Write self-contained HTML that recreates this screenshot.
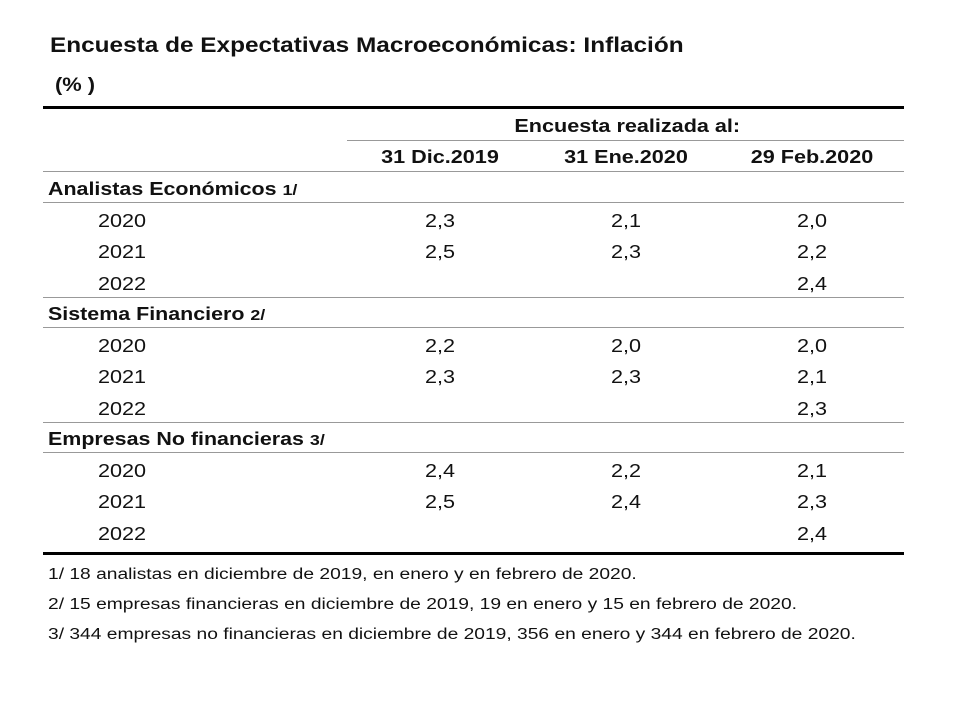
<!DOCTYPE html>
<html><head><meta charset="utf-8"><style>
body{margin:0;width:980px;height:722px;background:#fff;position:relative;font-family:"Liberation Sans",Arial,sans-serif;color:#111;overflow:hidden}
.a{position:absolute;white-space:nowrap;transform-origin:left top}
.ln{position:absolute;background:#999;height:1px}
.b{font-weight:bold}
.c{position:absolute;width:186px;text-align:center;font-size:18px;white-space:nowrap;transform:scaleX(1.2);transform-origin:center top}
.yr{position:absolute;left:98px;font-size:18px;transform:scaleX(1.2);transform-origin:left top}
.sec{position:absolute;left:48px;font-size:18px;font-weight:bold;white-space:nowrap;transform:scaleX(1.19);transform-origin:left top}
.sec small{font-size:15px}
.fn{position:absolute;left:48px;font-size:15.5px;white-space:nowrap;transform:scaleX(1.24);transform-origin:left top}
</style></head><body>
<div class="a b" style="left:50px;top:34px;font-size:21px;transform:scaleX(1.16)">Encuesta de Expectativas Macroeconómicas: Inflación</div>
<div class="a b" style="left:55px;top:75px;font-size:19px;transform:scaleX(1.15)">(% )</div>
<div class="ln" style="left:43px;top:106px;width:861px;height:3px;background:#000"></div>
<div class="c b" style="left:533px;top:116px">Encuesta realizada al:</div>
<div class="ln" style="left:347px;top:140px;width:557px"></div>
<div class="c b" style="left:347px;top:147px">31 Dic.2019</div>
<div class="c b" style="left:533px;top:147px">31 Ene.2020</div>
<div class="c b" style="left:719px;top:147px">29 Feb.2020</div>
<div class="ln" style="left:43px;top:171px;width:861px"></div>
<div id="body"></div>
<div class="ln" style="left:43px;top:552px;width:861px;height:3px;background:#000"></div>
<div class="fn" style="top:566px">1/ 18 analistas en diciembre de 2019, en enero y en febrero de 2020.</div>
<div class="fn" style="top:596px">2/ 15 empresas financieras en diciembre de 2019, 19 en enero y 15 en febrero de 2020.</div>
<div class="fn" style="top:626px">3/ 344 empresas no financieras en diciembre de 2019, 356 en enero y 344 en febrero de 2020.</div>
<script>
const sections=["Analistas Económicos","Sistema Financiero","Empresas No financieras"];
const notes=["1/","2/","3/"];
const years=["2020","2021","2022"];
const dic=[["2,3","2,5",""],["2,2","2,3",""],["2,4","2,5",""]];
const ene=[["2,1","2,3",""],["2,0","2,3",""],["2,2","2,4",""]];
const feb=[["2,0","2,2","2,4"],["2,0","2,1","2,3"],["2,1","2,3","2,4"]];
const body=document.getElementById('body');
const cols=[dic,ene,feb],colX=[347,533,719];
sections.forEach((s,i)=>{
  const top=172+i*125;
  const d=document.createElement('div');d.className='sec';d.style.top=(top+7)+'px';
  d.innerHTML=s+' <small>'+notes[i]+'</small>';
  
  
  body.appendChild(d);
  const l=document.createElement('div');l.className='ln';l.style.cssText='left:43px;width:861px;top:'+(top+30)+'px';
  
  
  body.appendChild(l);
  if(i>0){const l2=document.createElement('div');l2.className='ln';l2.style.cssText='left:43px;width:861px;top:'+top+'px';
  
  
  body.appendChild(l2);}
  years.forEach((y,j)=>{
    const ry=top+39+j*31.3;
    const e=document.createElement('div');e.className='yr';e.style.top=ry+'px';e.textContent=y;
    
    
    body.appendChild(e);
    cols.forEach((c,k)=>{
      const v=document.createElement('div');v.className='c';v.style.left=colX[k]+'px';v.style.top=ry+'px';v.textContent=c[i][j];
      
      
      body.appendChild(v);
    });
  });
});
</script>
</body></html>
